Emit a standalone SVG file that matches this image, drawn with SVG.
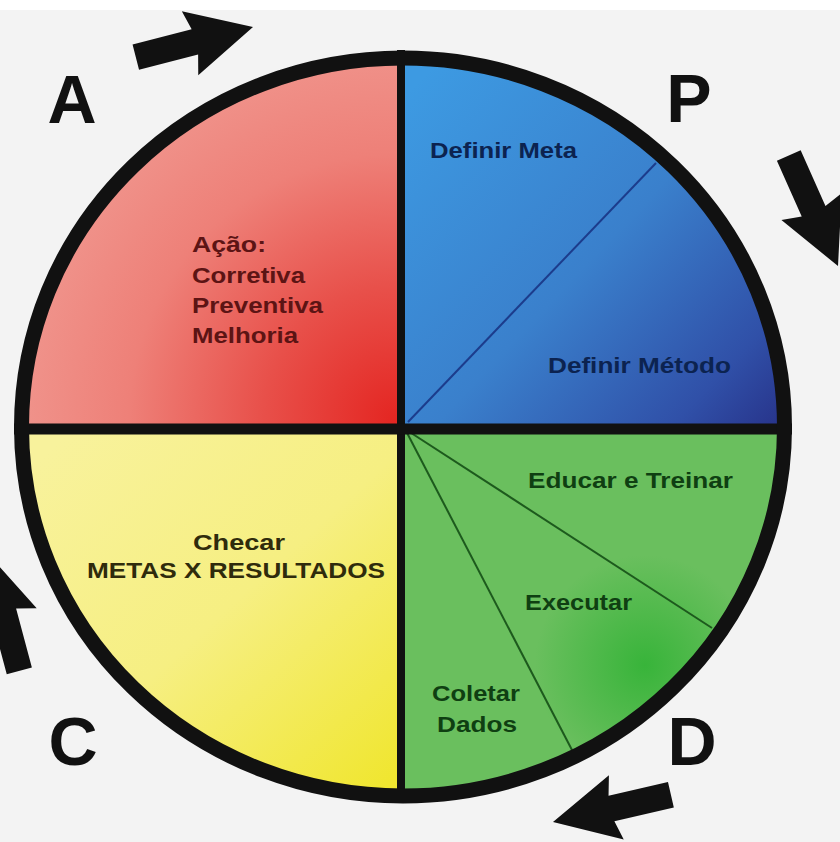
<svg xmlns="http://www.w3.org/2000/svg" width="840" height="842" viewBox="0 0 840 842">
<defs>
<style>
.t{font-family:"Liberation Sans",Arial,sans-serif;font-weight:bold;font-size:22px}
.big{font-family:"Liberation Sans",Arial,sans-serif;font-weight:bold;font-size:68px;fill:#111;text-anchor:middle}
.arrow{fill:#111}
.div{stroke:#111;fill:none}
.ta{fill:#5c1414}
.tp{fill:#0c2350}
.tc{fill:#2f2b0c}
.td{fill:#0f3f12}
</style>
<clipPath id="circ"><ellipse cx="403" cy="427" rx="384" ry="372"/></clipPath>
<radialGradient id="gRed" gradientUnits="userSpaceOnUse" cx="395" cy="420" r="380">
<stop offset="0" stop-color="#e42622"/>
<stop offset="0.35" stop-color="#e8504a"/>
<stop offset="0.7" stop-color="#ee8078"/>
<stop offset="1" stop-color="#f0948c"/>
</radialGradient>
<linearGradient id="gBlue" gradientUnits="userSpaceOnUse" x1="420" y1="80" x2="780" y2="420">
<stop offset="0" stop-color="#3d9ae2"/>
<stop offset="0.5" stop-color="#3a80cc"/>
<stop offset="0.85" stop-color="#3050a8"/>
<stop offset="1" stop-color="#28358c"/>
</linearGradient>
<linearGradient id="gYel" gradientUnits="userSpaceOnUse" x1="60" y1="440" x2="380" y2="790">
<stop offset="0" stop-color="#f8f29c"/>
<stop offset="0.5" stop-color="#f6ef82"/>
<stop offset="1" stop-color="#f0e630"/>
</linearGradient>
<radialGradient id="gGrn" gradientUnits="userSpaceOnUse" cx="645" cy="665" r="110">
<stop offset="0" stop-color="#38b43a"/>
<stop offset="1" stop-color="#6abf5e"/>
</radialGradient>
<path id="arr" d="M0,0 L-65,-33 L-60,-13 L-121,-13 L-121,13 L-60,13 L-65,33 Z"/>
</defs>
<rect width="840" height="842" fill="#f3f3f3"/>
<rect width="840" height="10" fill="#ffffff"/>

<g clip-path="url(#circ)">
<g id="quad-A"><rect x="0" y="0" width="403" height="429" fill="url(#gRed)"/></g>
<g id="quad-P"><rect x="403" y="0" width="437" height="429" fill="url(#gBlue)"/>
<line x1="408" y1="422" x2="656" y2="163" stroke="#1c3c8c" stroke-width="2"/></g>
<g id="quad-C"><rect x="0" y="429" width="403" height="413" fill="url(#gYel)"/></g>
<g id="quad-D"><rect x="403" y="429" width="437" height="413" fill="url(#gGrn)"/>
<line x1="405" y1="429" x2="712" y2="628" stroke="#1d5a1d" stroke-width="2"/>
<line x1="405" y1="429" x2="572" y2="750" stroke="#1d5a1d" stroke-width="2"/></g>
</g>

<g id="frame">
<line class="div" x1="401" y1="50" x2="401" y2="803" stroke-width="8"/>
<line class="div" x1="14" y1="429" x2="792" y2="429" stroke-width="11"/>
<ellipse class="div" cx="403" cy="427" rx="381.5" ry="369" stroke-width="15"/>
</g>

<g id="text-A" class="t ta">
<text x="192" y="252" textLength="74" lengthAdjust="spacingAndGlyphs">Ação:</text>
<text x="192" y="283" textLength="113" lengthAdjust="spacingAndGlyphs">Corretiva</text>
<text x="192" y="313" textLength="131" lengthAdjust="spacingAndGlyphs">Preventiva</text>
<text x="192" y="343" textLength="106" lengthAdjust="spacingAndGlyphs">Melhoria</text>
</g>
<g id="text-P" class="t tp">
<text x="430" y="158" textLength="147" lengthAdjust="spacingAndGlyphs">Definir Meta</text>
<text x="548" y="373" textLength="183" lengthAdjust="spacingAndGlyphs">Definir Método</text>
</g>
<g id="text-C" class="t tc">
<text x="193" y="550" textLength="92" lengthAdjust="spacingAndGlyphs">Checar</text>
<text x="87" y="578" textLength="298" lengthAdjust="spacingAndGlyphs">METAS X RESULTADOS</text>
</g>
<g id="text-D" class="t td">
<text x="528" y="488" textLength="205" lengthAdjust="spacingAndGlyphs">Educar e Treinar</text>
<text x="525" y="610" textLength="107" lengthAdjust="spacingAndGlyphs">Executar</text>
<text x="432" y="701" textLength="88" lengthAdjust="spacingAndGlyphs">Coletar</text>
<text x="437" y="732" textLength="80" lengthAdjust="spacingAndGlyphs">Dados</text>
</g>

<g id="labels">
<text class="big" x="72" y="123">A</text>
<text class="big" x="689" y="122">P</text>
<text class="big" x="73" y="765">C</text>
<text class="big" x="692" y="765">D</text>
</g>

<g id="connectors" class="arrow">
<use href="#arr" transform="translate(253,27) rotate(-14.4)"/>
<use href="#arr" transform="translate(838,266) rotate(66)"/>
<use href="#arr" transform="translate(553,822) rotate(167)"/>
<use href="#arr" transform="translate(-12,554) rotate(-105)"/>
</g>
</svg>
